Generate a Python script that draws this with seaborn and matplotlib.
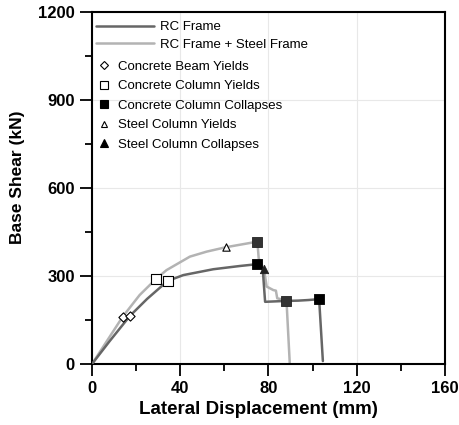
import matplotlib
matplotlib.use("Agg")
import matplotlib.pyplot as plt
import seaborn as sns
from matplotlib.lines import Line2D
from matplotlib.ticker import MultipleLocator

# ---- data ----
rc_x = [0, 8, 17.2, 25, 34.3, 41.4, 55, 67, 74.6, 77.4, 78.5, 88, 93.5, 98, 103, 104.7]
rc_y = [0, 78, 164, 222, 283, 303, 323, 334, 340, 327, 212, 215, 216, 218, 221, 10]

st_x = [0, 13.9, 21.6, 28.9, 33.8, 44.4, 52, 60.7, 75.0, 75.6, 78.0, 79.2, 80.7, 82.2, 83.4, 84.0, 88.2, 89.7]
st_y = [0, 161, 235, 289, 320, 366, 383, 398, 417, 360, 323, 264, 258, 252, 250, 224, 216, 0]

beam_yield_x = [13.9, 17.2]
beam_yield_y = [161, 164]
col_yield_x = [28.9, 34.3]
col_yield_y = [289, 283]
col_collapse_rc_x = [74.6, 103.0]
col_collapse_rc_y = [340, 221]
col_collapse_st_x = [75.0, 88.2]
col_collapse_st_y = [417, 216]
steel_yield_x = [60.7]
steel_yield_y = [398]
steel_collapse_x = [78.0]
steel_collapse_y = [323]

x_ticks = [0, 40, 80, 120, 160]
y_ticks = [0, 300, 600, 900, 1200]

sns.set_style("white")
plt.rcParams["font.family"] = ["Liberation Sans", "DejaVu Sans"]
plt.rcParams["text.color"] = "black"
plt.rcParams["axes.labelcolor"] = "black"
plt.rcParams["xtick.color"] = "black"
plt.rcParams["ytick.color"] = "black"

fig, ax = plt.subplots(figsize=(4.6, 4.25), dpi=100)
fig.subplots_adjust(left=0.2, right=0.967, bottom=0.1435, top=0.972)

dark = "#666666"
light = "#b3b3b3"

sns.lineplot(x=st_x, y=st_y, sort=False, estimator=None, color=light, lw=1.8, ax=ax, zorder=2)
sns.lineplot(x=rc_x, y=rc_y, sort=False, estimator=None, color=dark, lw=1.8, ax=ax, zorder=3)

mk = dict(ax=ax, zorder=5, legend=False)
sns.scatterplot(x=beam_yield_x, y=beam_yield_y, marker="D", s=22, facecolor="white", edgecolor="black", linewidth=0.8, **mk)
sns.scatterplot(x=col_yield_x, y=col_yield_y, marker="s", s=48, facecolor="white", edgecolor="black", linewidth=0.8, **mk)
sns.scatterplot(x=col_collapse_st_x, y=col_collapse_st_y, marker="s", s=44, color="#333333", edgecolor="#222222", linewidth=0.6, **mk)
sns.scatterplot(x=col_collapse_rc_x, y=col_collapse_rc_y, marker="s", s=44, color="black", edgecolor="black", linewidth=0.6, **mk)
sns.scatterplot(x=steel_yield_x, y=steel_yield_y, marker="^", s=28, facecolor="white", edgecolor="black", linewidth=0.8, **mk)
sns.scatterplot(x=steel_collapse_x, y=steel_collapse_y, marker="^", s=36, color="#222222", edgecolor="#222222", linewidth=0.6, **mk)

ax.set_xlim(0, 160)
ax.set_ylim(0, 1200)
ax.set_xticks(x_ticks)
ax.set_yticks(y_ticks)
ax.xaxis.set_minor_locator(MultipleLocator(20))
ax.yaxis.set_minor_locator(MultipleLocator(150))
ax.grid(True, which="major", color="#e8e8e8", lw=0.8)
ax.set_axisbelow(True)

for s in ax.spines.values():
    s.set_color("black")
    s.set_linewidth(1.5)

ax.tick_params(which="major", direction="out", length=8.5, width=1.3, color="black",
               labelsize=12, labelcolor="black", pad=4, bottom=True, left=True)
ax.tick_params(which="minor", direction="out", length=5, width=1.3, color="black",
               bottom=True, left=True)
for lab in ax.get_xticklabels() + ax.get_yticklabels():
    lab.set_fontweight("bold")

ax.set_xlabel("Lateral Displacement (mm)", fontsize=13.5, fontweight="bold", color="black")
ax.set_ylabel("Base Shear (kN)", fontsize=12.5, fontweight="bold", color="black")
ax.xaxis.set_label_coords(0.473, -0.105)
ax.yaxis.set_label_coords(-0.19, 0.53)

line_handles = [Line2D([], [], color=dark, lw=1.8), Line2D([], [], color=light, lw=1.8)]
leg1 = ax.legend(line_handles, ["RC Frame", "RC Frame + Steel Frame"], loc="upper left",
                 bbox_to_anchor=(0.012, 0.974), frameon=False, fontsize=9.5,
                 handlelength=4.4, handletextpad=0.4, labelspacing=0.38,
                 borderpad=0, borderaxespad=0, labelcolor="black")
ax.add_artist(leg1)

mk_handles = [
    Line2D([], [], ls="", marker="D", ms=4.2, mfc="white", mec="black", mew=0.8),
    Line2D([], [], ls="", marker="s", ms=6, mfc="white", mec="black", mew=0.8),
    Line2D([], [], ls="", marker="s", ms=6, mfc="black", mec="black", mew=0.8),
    Line2D([], [], ls="", marker="^", ms=5, mfc="white", mec="black", mew=0.8),
    Line2D([], [], ls="", marker="^", ms=6, mfc="black", mec="black", mew=0.8),
]
mk_labels = ["Concrete Beam Yields", "Concrete Column Yields", "Concrete Column Collapses",
             "Steel Column Yields", "Steel Column Collapses"]
ax.legend(mk_handles, mk_labels, loc="upper left", bbox_to_anchor=(0.016, 0.862),
          frameon=False, fontsize=9.5, handlelength=1.0, handletextpad=0.55,
          labelspacing=0.55, borderpad=0, borderaxespad=0, labelcolor="black")

fig.savefig("out.png", dpi=100)
